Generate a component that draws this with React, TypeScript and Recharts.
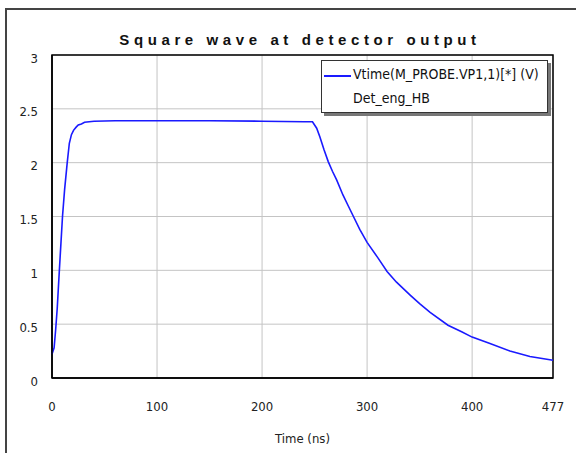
import { CartesianGrid, Legend, Line, LineChart, ReferenceArea, XAxis, YAxis } from "recharts"

// time (ns) and detector voltage (V)
const times = [
  0, 2, 3.5, 5, 7, 8.5, 10, 12, 14.5, 16.5, 18.5, 20.5, 23, 25, 28, 31, 40, 60, 100, 150,
  200, 240, 248, 252, 255, 259, 263, 267, 271, 277, 282, 287, 293, 300, 310, 319, 328, 341,
  350, 360, 377, 390, 400, 417, 436, 455, 477
]
const volts = [
  0.22, 0.28, 0.45, 0.65, 1.0, 1.25, 1.5, 1.75, 2.0, 2.18, 2.26, 2.3, 2.33, 2.35, 2.36, 2.375,
  2.385, 2.39, 2.39, 2.39, 2.385, 2.38, 2.38, 2.32, 2.24, 2.12, 2.01, 1.92, 1.84, 1.7, 1.6,
  1.5, 1.38, 1.26, 1.12, 0.99, 0.89, 0.77, 0.69, 0.61, 0.49, 0.43, 0.38, 0.32, 0.25, 0.2, 0.165
]
const xTicks = [0, 100, 200, 300, 400, 477]
const yTicks = [0, 0.5, 1, 1.5, 2, 2.5, 3]

const data = times.map((t, i) => ({ t, v: volts[i] }))

const narrow = '"Liberation Sans Narrow", "DejaVu Sans Condensed", "Open Sans", sans-serif'

const renderLegend = () => (
  <div
    style={{
      width: 227,
      height: 53,
      boxSizing: "border-box",
      background: "#fff",
      border: "1px solid #333",
      boxShadow: "3px 3px 0 #777",
      fontFamily: narrow,
      fontSize: 14,
      color: "#111",
      position: "relative"
    }}
  >
    <div style={{ position: "absolute", left: 2, top: 14, width: 27, height: 1.5, background: "#1a1aff" }} />
    <div style={{ position: "absolute", left: 31, top: 5, whiteSpace: "nowrap" }}>Vtime(M_PROBE.VP1,1)[*] (V)</div>
    <div style={{ position: "absolute", left: 31, top: 29, whiteSpace: "nowrap" }}>Det_eng_HB</div>
  </div>
)

const App = () => {
  return (
    <div style={{ position: "absolute", left: 0, top: 0, width: 576, height: 453, background: "#fff", overflow: "hidden" }}>
      <div
        style={{
          position: "absolute",
          left: 5,
          top: 8,
          width: 600,
          height: 460,
          borderLeft: "2px solid #444",
          borderTop: "2px solid #444"
        }}
      />
      <div
        style={{
          position: "absolute",
          left: 0,
          width: 600,
          top: 31,
          textAlign: "center",
          fontFamily: '"Liberation Sans", Arial, sans-serif',
          fontWeight: "bold",
          fontSize: 15,
          letterSpacing: 4.6,
          color: "#111"
        }}
      >
        Square wave at detector output
      </div>
      <div style={{ position: "absolute", left: 0, top: 0 }}>
        <LineChart width={576} height={453} data={data} margin={{ top: 55, right: 23, left: 0, bottom: 0 }}>
          <CartesianGrid stroke="#c4c4c4" strokeWidth={1} />
          <XAxis
            dataKey="t"
            type="number"
            domain={[0, 477]}
            ticks={xTicks}
            height={75}
            axisLine={{ stroke: "#000", strokeWidth: 1.5 }}
            tickLine={false}
            tickMargin={18}
            tick={{ fill: "#222", fontSize: 13, fontFamily: narrow }}
            label={{ value: "Time (ns)", position: "insideBottom", offset: 10, fill: "#222", fontSize: 13, fontFamily: narrow }}
          />
          <YAxis
            type="number"
            domain={[0, 3]}
            ticks={yTicks}
            width={52}
            axisLine={{ stroke: "#000", strokeWidth: 1.5 }}
            tickLine={false}
            tickMargin={8}
            tick={{ fill: "#222", fontSize: 13, fontFamily: narrow, dy: 3 }}
          />
          <ReferenceArea x1={0} x2={477} y1={0} y2={3} fill="none" stroke="#000" strokeWidth={1.5} strokeOpacity={1} />
          <Legend
            layout="horizontal"
            verticalAlign="middle"
            align="center"
            content={renderLegend}
            wrapperStyle={{ left: 321, top: 60, width: 227, height: 53 }}
          />
          <Line
            type="linear"
            dataKey="v"
            stroke="#1a1aff"
            strokeWidth={1.6}
            dot={false}
            isAnimationActive={false}
          />
        </LineChart>
      </div>
    </div>
  )
}

export default App
